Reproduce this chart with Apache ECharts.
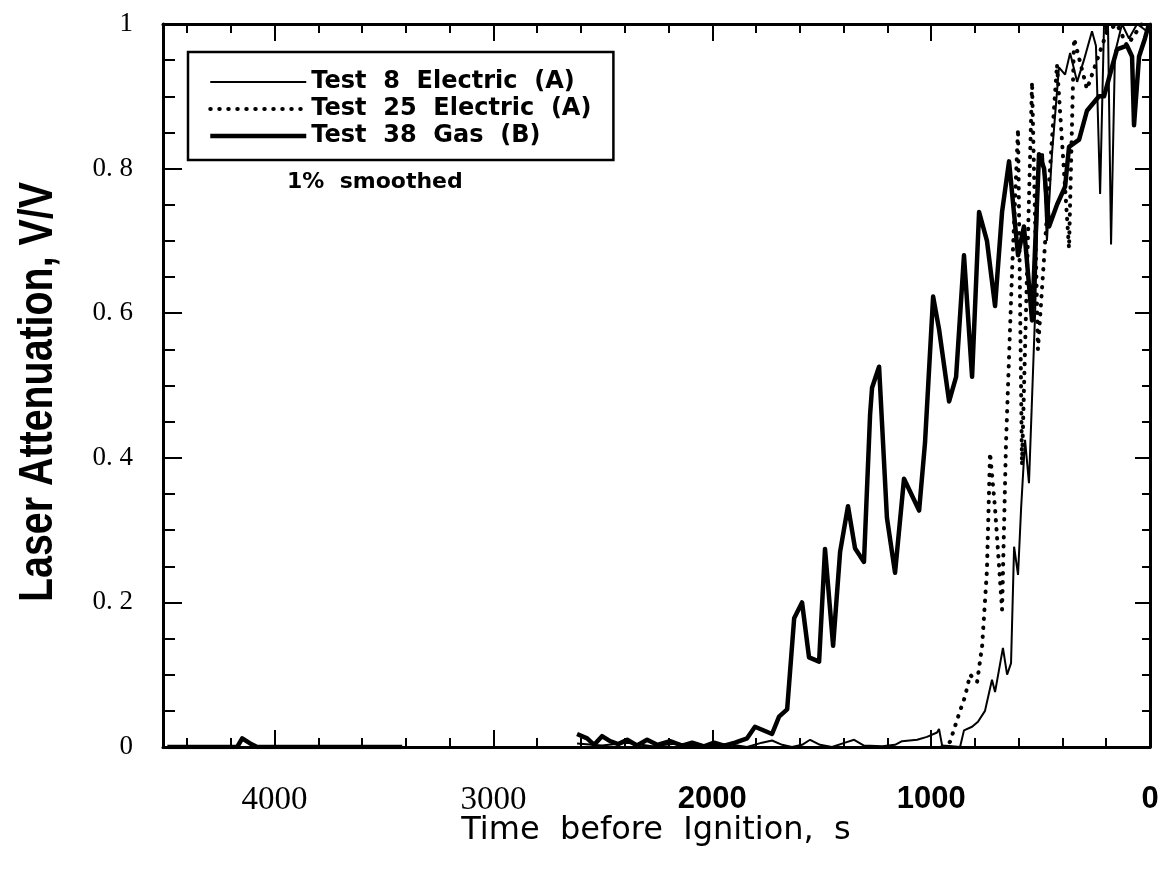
<!DOCTYPE html>
<html><head><meta charset="utf-8">
<script src="https://cdn.jsdelivr.net/npm/echarts@6/dist/echarts.min.js"></script>
<style>html,body{margin:0;padding:0;background:#fff}#c{width:1165px;height:884px}</style>
</head><body><div id="c"></div>
<script>
// ---- data (time before ignition [s], laser attenuation [V/V]) ----
const seriesNames = ['Test  8  Electric  (A)', 'Test  25  Electric  (A)', 'Test  38  Gas  (B)'];
const xTickValues = [0, 1000, 2000, 3000, 4000];
const yTickLabels = ['0', '0. 2', '0. 4', '0. 6', '0. 8', '1'];

const test8 = [[2618,0.005],[2504,0.002],[2389,0.006],[2275,0.001],[2161,0.005],[2047,0.001],[1932,0.004],[1841,0],[1773,0.006],[1727,0.009],[1681,0.003],[1636,0],[1590,0.003],[1553,0.010],[1508,0.003],[1453,0],[1393,0.006],[1352,0.010],[1307,0.002],[1224,0.001],[1165,0.003],[1133,0.008],[1064,0.010],[1019,0.014],[973,0.020],[964,0.025],[950,0.002],[905,0.001],[868,0],[850,0.023],[813,0.028],[786,0.035],[754,0.050],[722,0.093],[708,0.076],[672,0.137],[653,0.100],[635,0.116],[621,0.277],[603,0.238],[589,0.330],[571,0.425],[553,0.365],[525,0.600],[507,0.820],[489,0.820],[471,0.700],[448,0.820],[416,0.940],[388,0.930],[365,0.960],[333,0.920],[302,0.950],[265,0.990],[247,0.970],[228,0.765],[210,1.0],[192,1.0],[178,0.695],[160,0.960],[128,1.0],[96,0.980],[59,1.0],[14,0.990]];

const test25 = [[950,0],[914,0.007],[868,0.050],[845,0.070],[822,0.100],[790,0.090],[767,0.140],[745,0.245],[731,0.407],[708,0.330],[676,0.190],[658,0.420],[630,0.660],[603,0.855],[585,0.390],[539,0.920],[512,0.550],[425,0.944],[370,0.690],[347,0.980],[288,0.910],[196,0.990],[151,1.0],[105,0.970],[37,1.0]];

const test38 = [[4490,0],[4171,0],[4148,0.012],[4112,0.005],[4080,0],[3417,0],[3000,'-'],
[2618,0.018],[2572,0.012],[2540,0.003],[2504,0.015],[2467,0.008],[2430,0.004],[2389,0.010],[2344,0.002],[2298,0.010],[2252,0.003],[2193,0.008],[2138,0.002],[2092,0.006],[2038,0.001],[1992,0.006],[1946,0.002],[1896,0.006],[1841,0.012],[1805,0.028],[1727,0.018],[1695,0.042],[1658,0.052],[1626,0.178],[1590,0.200],[1558,0.124],[1512,0.118],[1485,0.274],[1448,0.140],[1416,0.270],[1380,0.333],[1348,0.275],[1307,0.256],[1279,0.460],[1270,0.497],[1238,0.526],[1202,0.317],[1165,0.241],[1124,0.371],[1055,0.327],[1028,0.421],[991,0.623],[964,0.578],[918,0.478],[886,0.512],[850,0.680],[813,0.512],[781,0.740],[745,0.700],[708,0.610],[676,0.740],[644,0.810],[603,0.680],[576,0.720],[539,0.590],[507,0.820],[484,0.800],[461,0.720],[425,0.750],[388,0.775],[370,0.830],[324,0.840],[288,0.880],[233,0.900],[210,0.900],[174,0.940],[151,0.965],[105,0.970],[82,0.955],[73,0.860],[50,0.955],[23,0.980],[5,1.0]];

// ---- chart ----
const X_MIN = 0, X_MAX = 4510;
const chart = echarts.init(document.getElementById('c'), null, {renderer: 'canvas'});
const black = '#000';
const serifFont = '"Liberation Serif", "DejaVu Serif", serif';
const sansFont = '"Liberation Sans", Arial, sans-serif';
const lineStyles = [
  {color: black, width: 2},
  {color: black, width: 4, type: [0.5, 8.5], cap: 'round'},
  {color: black, width: 4.5, join: 'round'}
];

function xAxisDef(position, interval, tickLen, showLine, showLabel) {
  return {
    type: 'value', position: position, min: X_MIN, max: X_MAX, interval: interval, inverse: true,
    axisLine: {show: showLine, onZero: false, lineStyle: {color: black, width: 3}},
    axisTick: {show: true, inside: true, length: tickLen, lineStyle: {color: black, width: 2}},
    splitLine: {show: false},
    axisLabel: showLabel ? {
      show: true, margin: 37,
      formatter: function (v) {
        if (xTickValues.indexOf(v) < 0) return '';
        return v >= 3000 ? '{s|' + v + '}' : '{b|' + v + '}';
      },
      rich: {
        s: {fontFamily: serifFont, fontSize: 33, color: black},
        b: {fontFamily: sansFont, fontSize: 31, fontWeight: 'bold', color: black}
      }
    } : {show: false}
  };
}
function yAxisDef(position, interval, tickLen, showLine, showLabel) {
  return {
    type: 'value', position: position, min: 0, max: 1, interval: interval,
    axisLine: {show: showLine, onZero: false, lineStyle: {color: black, width: 3}},
    axisTick: {show: true, inside: true, length: tickLen, lineStyle: {color: black, width: 2}},
    splitLine: {show: false},
    axisLabel: showLabel ? {
      show: true, margin: 30, color: black, fontFamily: serifFont, fontSize: 27,
      formatter: function (v) {
        const i = Math.round(v / 0.2);
        return Math.abs(v - i * 0.2) < 1e-6 ? yTickLabels[i] : '';
      }
    } : {show: false}
  };
}

const option = {
  backgroundColor: '#fff',
  animation: false,
  grid: {left: 163, top: 24, width: 987, height: 723, containLabel: false},
  xAxis: [
    xAxisDef('bottom', 200, 9, true, false),
    xAxisDef('bottom', 1000, 17, false, true),
    xAxisDef('top', 200, 9, true, false),
    xAxisDef('top', 1000, 17, false, false)
  ],
  yAxis: [
    yAxisDef('left', 0.05, 12, true, false),
    yAxisDef('left', 0.2, 19, false, true),
    yAxisDef('right', 0.05, 8, true, false),
    yAxisDef('right', 0.2, 15, false, false)
  ],
  legend: {
    left: 188, top: 52, orient: 'vertical',
    borderColor: black, borderWidth: 2.5, borderRadius: 0,
    padding: [18, 22, 12, 20],
    itemWidth: 96, itemHeight: 20, itemGap: 3,
    itemStyle: {opacity: 0},
    textStyle: {fontFamily: '"DejaVu Sans", sans-serif', fontWeight: 'bold', fontSize: 24, color: black},
    data: seriesNames.map(function (n, i) {
      return {name: n, itemStyle: {opacity: 0}, lineStyle: lineStyles[i]};
    })
  },
  series: seriesNames.map(function (n, i) {
    return {
      name: n, type: 'line', data: [test8, test25, test38][i], symbol: 'none',
      xAxisIndex: 0, yAxisIndex: 0, lineStyle: lineStyles[i], itemStyle: {color: black},
      z: [3, 2, 4][i]
    };
  }),
  graphic: [
    {type: 'text', left: 287, top: 171,
     style: {text: '1%  smoothed', font: 'bold 22px "DejaVu Sans", sans-serif', fill: black}},
    {type: 'text', x: 656, y: 831,
     style: {text: 'Time  before  Ignition,  s', font: '32px "DejaVu Sans", sans-serif', fill: black,
             align: 'center', verticalAlign: 'middle'}},
    {type: 'text', x: 39, y: 392, rotation: Math.PI / 2, scaleX: 0.82,
     style: {text: 'Laser Attenuation, V/V', font: 'bold 48px "Liberation Sans", sans-serif', fill: black,
             align: 'center', verticalAlign: 'middle'}}
  ]
};
chart.setOption(option);
</script>
</body></html>
